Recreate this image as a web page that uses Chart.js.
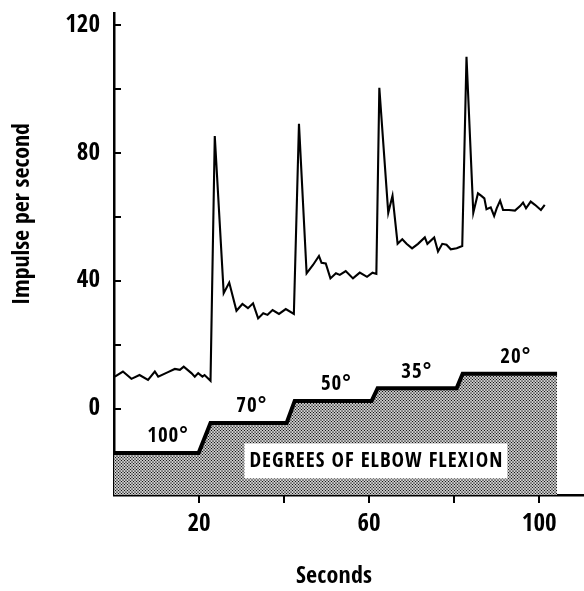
<!DOCTYPE html>
<html><head><meta charset="utf-8">
<script src="https://cdn.jsdelivr.net/npm/chart.js@4.4.1/dist/chart.umd.min.js"></script>
<style>html,body{margin:0;padding:0;background:#fff}#wrap{width:584px;height:591px;position:relative}</style>
</head><body><div id="wrap"><canvas id="c"></canvas></div>
<script>
// ---- data ----
const seconds = [0.2,2.1,4.1,6.0,8.0,9.6,10.4,12.7,14.3,15.5,16.4,18.2,19.0,19.8,20.8,21.3,22.7,
  23.7,25.8,27.1,28.8,30.2,31.5,32.7,33.9,35.1,36.1,37.3,38.8,40.4,42.3,
  43.5,45.3,46.8,48.2,48.8,49.8,50.9,52.2,53.1,54.5,56.2,57.8,59.5,60.8,61.7,
  62.4,64.5,65.5,66.7,67.8,68.8,70.1,71.5,73.1,73.7,75.3,76.2,77.2,78.2,79.2,80.6,81.9,
  82.9,84.5,85.6,86.4,87.1,87.6,88.6,89.4,90.0,90.8,91.5,92.9,94.3,95.5,96.2,96.9,98.0,99.0,100.4,101.3];
const impulses = [10.1,11.7,9.4,10.6,9.1,11.7,10.1,11.5,12.5,12.2,13.2,11.2,10.1,11.2,10.1,10.6,8.8,
  85.3,36.2,39.5,30.7,32.8,31.5,33.0,28.3,29.9,29.4,30.9,29.7,31.2,29.7,
  89.1,42.4,45.0,47.8,45.7,45.5,40.8,42.4,41.9,43.1,40.8,42.6,41.3,42.6,42.2,
  100.4,61.3,66.6,51.6,53.0,51.6,50.2,51.6,53.6,51.6,53.6,49.2,51.6,51.3,49.9,50.2,50.9,
  110.1,61.3,67.4,66.6,65.8,62.4,63.0,60.3,62.7,65.1,62.2,62.2,62.0,63.4,64.5,62.7,64.8,63.8,62.2,63.8];
const flexionSeconds = [0,19.9,22.7,40.6,42.5,60.6,62,80.6,82,104.2];
const flexionLevel = [-13.75,-13.75,-4.4,-4.4,2.5,2.5,6.5,6.5,11,11];
const angleLabels = ['100°','70°','50°','35°','20°'];
const angleLabelSeconds = [12.7,32.4,52.3,71.2,94.5];
const angleLabelLevel = [-13.75,-4.4,2.5,6.5,11];
const yTickValues = [0,20,40,60,80,100,120];
const yTickLabels = ['0','','40','','80','','120'];
const xTickValues = [20,40,60,80,100];
const xTickLabels = ['20','','60','','100'];
const xTitle = 'Seconds';
const yTitle = 'Impulse per second';
const boxText = 'DEGREES OF ELBOW FLEXION';
const boxAnchor = {x:61.6, y:-16.25};

// ---- style ----
const FONT = '"Open Sans Condensed","Roboto Condensed","DejaVu Sans Condensed",sans-serif';

function makePattern(){
  const p = document.createElement('canvas'); p.width = 3; p.height = 3;
  const g = p.getContext('2d');
  g.fillStyle = '#fff'; g.fillRect(0,0,3,3);
  g.fillStyle = '#111';
  const pts = [[1.5,1.5],[0,0],[3,0],[0,3],[3,3]];
  pts.forEach(([cx,cy])=>{ g.beginPath(); g.arc(cx,cy,0.85,0,Math.PI*2); g.fill(); });
  return g.createPattern(p,'repeat');
}

function fitText(ctx, text, x, y, target){
  ctx.letterSpacing = '0px';
  const w0 = ctx.measureText(text).width;
  const ls = (target - w0) / (text.length - 1);
  ctx.letterSpacing = ls + 'px';
  ctx.textAlign = 'left';
  ctx.fillText(text, x - target/2, y);
  ctx.letterSpacing = '0px';
}

const extras = {
  id:'extras',
  afterDatasetsDraw(chart){
    const {ctx, scales:{x,y}} = chart;
    ctx.save();
    ctx.fillStyle = '#000';
    ctx.font = 'bold 21px ' + FONT;
    ctx.textAlign = 'center'; ctx.textBaseline = 'middle';
    ctx.letterSpacing = '1px';
    angleLabels.forEach((t,i)=>{
      ctx.fillText(t, x.getPixelForValue(angleLabelSeconds[i]), y.getPixelForValue(angleLabelLevel[i]) - 16);
    });
    ctx.letterSpacing = '0px';
    const cx = x.getPixelForValue(boxAnchor.x), cy = y.getPixelForValue(boxAnchor.y);
    const target = 253;
    ctx.fillStyle = '#fff';
    ctx.fillRect(cx - target/2 - 5, cy - 17.5, target + 10, 35);
    ctx.fillStyle = '#000';
    ctx.font = 'bold 21px ' + FONT;
    fitText(ctx, boxText, cx, cy + 1, target);
    ctx.restore();
  },
  afterDraw(chart){
    const {ctx, scales:{x,y}, chartArea:a} = chart;
    ctx.save();
    ctx.strokeStyle = '#000'; ctx.lineWidth = 2;
    yTickValues.forEach(v=>{ const py = Math.round(y.getPixelForValue(v));
      ctx.beginPath(); ctx.moveTo(a.left, py); ctx.lineTo(a.left + 7, py); ctx.stroke(); });
    xTickValues.forEach(v=>{ const px = Math.round(x.getPixelForValue(v));
      ctx.beginPath(); ctx.moveTo(px, a.bottom); ctx.lineTo(px, a.bottom + 8); ctx.stroke(); });
    ctx.fillStyle = '#000';
    ctx.font = 'bold 24px ' + FONT;
    ctx.textBaseline = 'middle';
    fitText(ctx, xTitle, 334, 577, 76);
    ctx.translate(23, 214); ctx.rotate(-Math.PI/2);
    fitText(ctx, yTitle, 0, 0, 182);
    ctx.restore();
  }
};

function noPad(s){ s.paddingTop = 0; s.paddingBottom = 0; s.paddingLeft = 0; s.paddingRight = 0; }

const ctx = document.getElementById('c').getContext('2d');
new Chart(ctx, {
  type:'line',
  data:{ datasets:[
    { data: seconds.map((s,i)=>({x:s, y:impulses[i]})), borderColor:'#000', borderWidth:2.1,
      pointRadius:0, tension:0, fill:false, borderJoinStyle:'miter' },
    { data: flexionSeconds.map((s,i)=>({x:s, y:flexionLevel[i]})), borderColor:'#000', borderWidth:4,
      pointRadius:0, tension:0, fill:'start', backgroundColor: makePattern(), borderJoinStyle:'miter' }
  ]},
  options:{
    responsive:true, maintainAspectRatio:false, animation:false, events:[],
    layout:{ padding:{ top:13, right:1, left:0, bottom:0 } },
    plugins:{ legend:{display:false}, tooltip:{enabled:false} },
    scales:{
      x:{ type:'linear', min:0, max:110.3,
        afterBuildTicks(s){ s.ticks = xTickValues.map(v=>({value:v})); },
        ticks:{ callback:(v,i)=>xTickLabels[i], color:'#000', padding:17, maxRotation:0, autoSkip:false,
          font:{ family:FONT, size:25, weight:'bold', lineHeight:1 } },
        grid:{ display:false, drawTicks:false },
        border:{ display:true, color:'#000', width:2.5 },
        afterFit(s){ s.height = 96; noPad(s); } },
      y:{ type:'linear', min:-26.9, max:123.75,
        afterBuildTicks(s){ s.ticks = yTickValues.map(v=>({value:v})); },
        ticks:{ callback:(v,i)=>yTickLabels[i], color:'#000', padding:14, autoSkip:false,
          font:{ family:FONT, size:25, weight:'bold', lineHeight:1 } },
        grid:{ display:false, drawTicks:false },
        border:{ display:true, color:'#000', width:2.5 },
        afterFit(s){ s.width = 114; noPad(s); } }
    }
  },
  plugins:[extras]
});
</script></body></html>
